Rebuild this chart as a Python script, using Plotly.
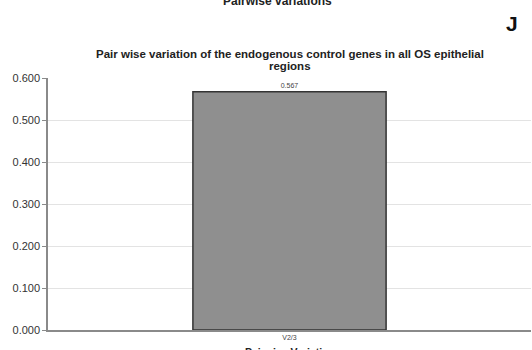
import plotly.graph_objects as go

categories = ["V2/3"]
values = [0.567]
value_labels = ["0.567"]
tick_vals = [0.0, 0.1, 0.2, 0.3, 0.4, 0.5, 0.6]
tick_text = ["0.000", "0.100", "0.200", "0.300", "0.400", "0.500", "0.600"]

LEFT, RIGHT = 48, 531
TOP, BOTTOM = 78, 330
PH = BOTTOM - TOP
PW = RIGHT - LEFT


def py(pixel):
    return (BOTTOM - pixel) / PH


def px(pixel):
    return (pixel - LEFT) / PW


fig = go.Figure()
fig.add_trace(go.Bar(
    x=categories, y=values, text=value_labels, textposition="outside",
    textfont=dict(size=7, color="#444", family="Arial, Liberation Sans"),
    marker=dict(color="#8f8f8f", line=dict(color="#333333", width=1.5)),
    cliponaxis=False,
))

fig.update_layout(
    width=532, height=350,
    margin=dict(l=LEFT, r=532 - RIGHT, t=TOP, b=350 - BOTTOM),
    paper_bgcolor="white", plot_bgcolor="white",
    bargap=0.6,
    showlegend=False,
    font=dict(family="Arial, Liberation Sans", color="#333"),
    xaxis=dict(
        showline=True, linecolor="#8a8a8a", linewidth=2,
        tickfont=dict(size=7, color="#444"), ticks="", showgrid=False,
    ),
    yaxis=dict(
        range=[0, 0.6], tickvals=tick_vals, ticktext=tick_text,
        showline=True, linecolor="#8a8a8a", linewidth=1.5,
        ticks="outside", ticklen=4, tickcolor="#8a8a8a",
        tickfont=dict(size=11, color="#333"),
        showgrid=True, gridcolor="#e3e3e3", gridwidth=1, zeroline=False,
    ),
    annotations=[
        dict(text="<b>Pairwise variations</b>", x=px(277), y=py(1), xref="paper", yref="paper",
             yanchor="middle", showarrow=False, font=dict(size=12, color="#222")),
        dict(text="<b>J</b>", x=px(520), xref="paper", y=py(23), yref="paper",
             yanchor="middle", showarrow=False, font=dict(size=21, color="#111")),
        dict(text="<b>Pair wise variation of the endogenous control genes in all OS epithelial</b>",
             x=0.5, xref="paper", y=py(54), yref="paper", yanchor="middle",
             showarrow=False, font=dict(size=11.5, color="#222")),
        dict(text="<b>regions</b>",
             x=0.5, xref="paper", y=py(66), yref="paper", yanchor="middle",
             showarrow=False, font=dict(size=11.5, color="#222")),
        dict(text="<b>Pairwise Variation</b>", x=0.5, xref="paper", y=py(352), yref="paper",
             yanchor="middle", showarrow=False, font=dict(size=10.5, color="#222")),
    ],
)

fig.write_html("out.html", config={"displayModeBar": False},
               post_script="document.body.style.margin='0';")
